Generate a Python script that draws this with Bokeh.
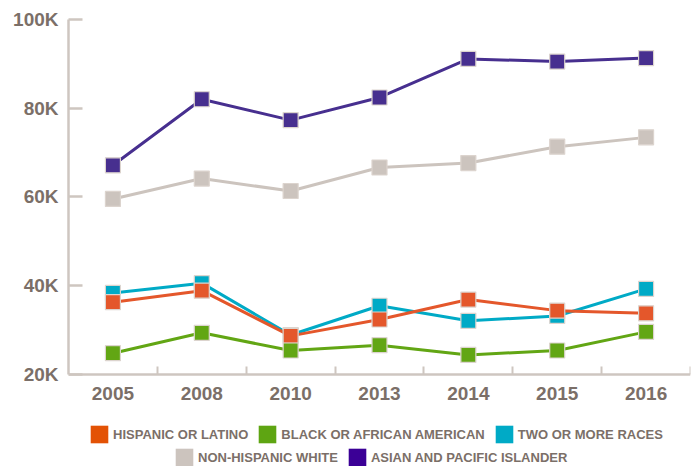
from bokeh.plotting import figure
from bokeh.models import Range1d, FixedTicker, Legend, LegendItem, LinearAxis
from bokeh.embed import file_html
from bokeh.resources import INLINE

# ---- data ----
years = ["2005", "2008", "2010", "2013", "2014", "2015", "2016"]
hispanic = [36200, 38800, 28600, 32300, 36800, 34300, 33700]
black = [24700, 29300, 25300, 26500, 24300, 25300, 29500]
two_or_more = [38300, 40500, 28800, 35400, 32000, 33100, 39200]
white = [59500, 64100, 61300, 66600, 67600, 71300, 73400]
asian = [67100, 82000, 77300, 82400, 91100, 90500, 91300]

y_ticks = [20000, 40000, 60000, 80000, 100000]
y_tick_labels = ["20K", "40K", "60K", "80K", "100K"]

series_names = ["HISPANIC OR LATINO", "BLACK OR AFRICAN AMERICAN", "TWO OR MORE RACES",
                "NON-HISPANIC WHITE", "ASIAN AND PACIFIC ISLANDER"]

# ---- styles ----
TEXT = "#7b6f68"
AXIS = "#cec6c0"
line_colors = {"HISPANIC OR LATINO": "#e4572b", "BLACK OR AFRICAN AMERICAN": "#62a614",
               "TWO OR MORE RACES": "#00aac6", "NON-HISPANIC WHITE": "#ccc4be",
               "ASIAN AND PACIFIC ISLANDER": "#472f8f"}
legend_colors = {"HISPANIC OR LATINO": "#e35205", "BLACK OR AFRICAN AMERICAN": "#5ea512",
                 "TWO OR MORE RACES": "#00aac6", "NON-HISPANIC WHITE": "#ccc4be",
                 "ASIAN AND PACIFIC ISLANDER": "#3b0096"}

xs = [i + 0.5 for i in range(len(years))]

# frame runs to the bottom of the figure; the x axis sits at y = 20K inside it,
# leaving room below for the tick labels and the legend rows
W, H = 699, 466
TOP, LEFT, RIGHT = 19, 68, 9
AXIS_PX = 354.5                      # pixels between 20K and 100K
y_lo = y_ticks[0] - (H - TOP - AXIS_PX) * (y_ticks[-1] - y_ticks[0]) / AXIS_PX

p = figure(width=W, height=H, output_backend="svg", toolbar_location=None,
           x_range=Range1d(0, len(years)), y_range=Range1d(y_lo, y_ticks[-1]),
           x_axis_location=None,
           min_border_left=LEFT, min_border_right=RIGHT, min_border_top=TOP, min_border_bottom=0)
p.outline_line_color = None
p.grid.visible = False
p.background_fill_color = "white"

xaxis = LinearAxis(fixed_location=y_ticks[0])
p.add_layout(xaxis, "below")

p.yaxis.ticker = FixedTicker(ticks=y_ticks)
p.yaxis.bounds = (y_ticks[0], y_ticks[-1])
p.yaxis.major_label_overrides = {t: l for t, l in zip(y_ticks, y_tick_labels)}
xaxis.ticker = FixedTicker(ticks=xs, minor_ticks=list(range(1, len(years) + 1)))
xaxis.major_label_overrides = {x: y for x, y in zip(xs, years)}

for ax in (xaxis, p.yaxis[0]):
    ax.axis_line_color = AXIS
    ax.axis_line_width = 2.5
    ax.major_label_text_color = TEXT
    ax.major_label_text_font = "Liberation Sans"
    ax.major_label_text_font_style = "bold"
    ax.major_label_text_font_size = "19px"
    ax.major_tick_out = 0

p.yaxis.major_tick_line_color = AXIS
p.yaxis.major_tick_line_width = 2.5
p.yaxis.major_tick_in = 14
p.yaxis.minor_tick_line_color = None
p.yaxis.major_label_standoff = 10
p.yaxis.major_label_text_baseline = "hanging"

xaxis.major_tick_line_color = None
xaxis.minor_tick_line_color = AXIS
xaxis.minor_tick_line_width = 2
xaxis.minor_tick_in = 8
xaxis.minor_tick_out = 0
xaxis.major_label_standoff = 13

data = {"HISPANIC OR LATINO": hispanic, "BLACK OR AFRICAN AMERICAN": black,
        "TWO OR MORE RACES": two_or_more, "NON-HISPANIC WHITE": white,
        "ASIAN AND PACIFIC ISLANDER": asian}

draw_order = ["NON-HISPANIC WHITE", "ASIAN AND PACIFIC ISLANDER", "TWO OR MORE RACES",
              "HISPANIC OR LATINO", "BLACK OR AFRICAN AMERICAN"]
for name in draw_order:
    c = line_colors[name]
    p.line(xs, data[name], line_color=c, line_width=3)
    p.scatter(xs, data[name], marker="square", size=15, fill_color=c,
              line_color="#dcd4ce", line_width=1.2)

# legend swatches: hidden zero-size quads on the series data, used only by the legend
swatch = {}
for name in series_names:
    swatch[name] = p.quad(left=xs, right=xs, top=data[name], bottom=data[name],
                          fill_color=legend_colors[name], line_color=None, visible=False)


def make_legend(names, loc):
    leg = Legend(items=[LegendItem(label=n, renderers=[swatch[n]]) for n in names],
                 location=loc, orientation="horizontal",
                 glyph_width=22, glyph_height=22, label_standoff=3, spacing=8,
                 padding=0, margin=0, border_line_color=None, background_fill_alpha=0,
                 label_text_font="Liberation Sans", label_text_font_style="bold",
                 label_text_font_size="13px", label_text_color=TEXT)
    p.add_layout(leg, "center")
    return leg


make_legend(series_names[:3], (20, 21))
make_legend(series_names[3:], (105, -2))

open("out.html", "w").write(file_html(p, INLINE))
